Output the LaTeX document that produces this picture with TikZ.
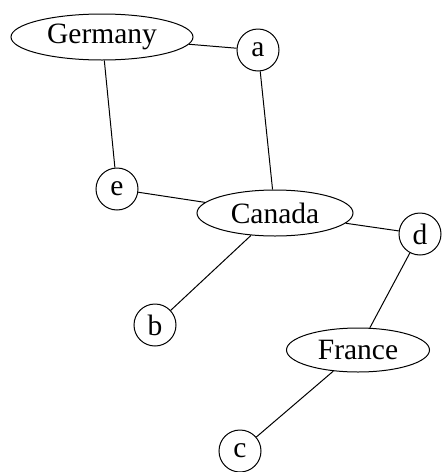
\documentclass[tikz,border=0pt]{standalone}
\usepackage{fontspec}
\setmainfont{Liberation Serif}
\usetikzlibrary{shapes.geometric}
\begin{document}
\begin{tikzpicture}[x=1pt,y=-1pt,
  every node/.style={font=\fontsize{29.5}{33}\selectfont, draw=black, line width=1pt, inner sep=0pt},
  country/.style={ellipse},
  letter/.style={circle, minimum size=42pt},
  link/.style={line width=1pt}]
\useasboundingbox (0,0) rectangle (442,472);
\node[country, minimum width=182pt, minimum height=46pt] (germany) at (102,37) {Germany};
\node[country, minimum width=156pt, minimum height=46pt] (canada) at (275,213) {Canada};
\node[country, minimum width=143pt, minimum height=44pt] (france) at (358,350) {France};
\node[letter] (a) at (258,50) {a};
\node[letter] (e) at (117,189) {e};
\node[letter] (d) at (420,234) {d};
\node[letter] (b) at (155,325) {b};
\node[letter] (c) at (240,451) {c};
\draw[link] (germany) -- (a);
\draw[link] (germany) -- (e);
\draw[link] (a) -- (canada);
\draw[link] (e) -- (canada);
\draw[link] (canada) -- (b);
\draw[link] (canada) -- (d);
\draw[link] (d) -- (france);
\draw[link] (france) -- (c);
\end{tikzpicture}
\end{document}
